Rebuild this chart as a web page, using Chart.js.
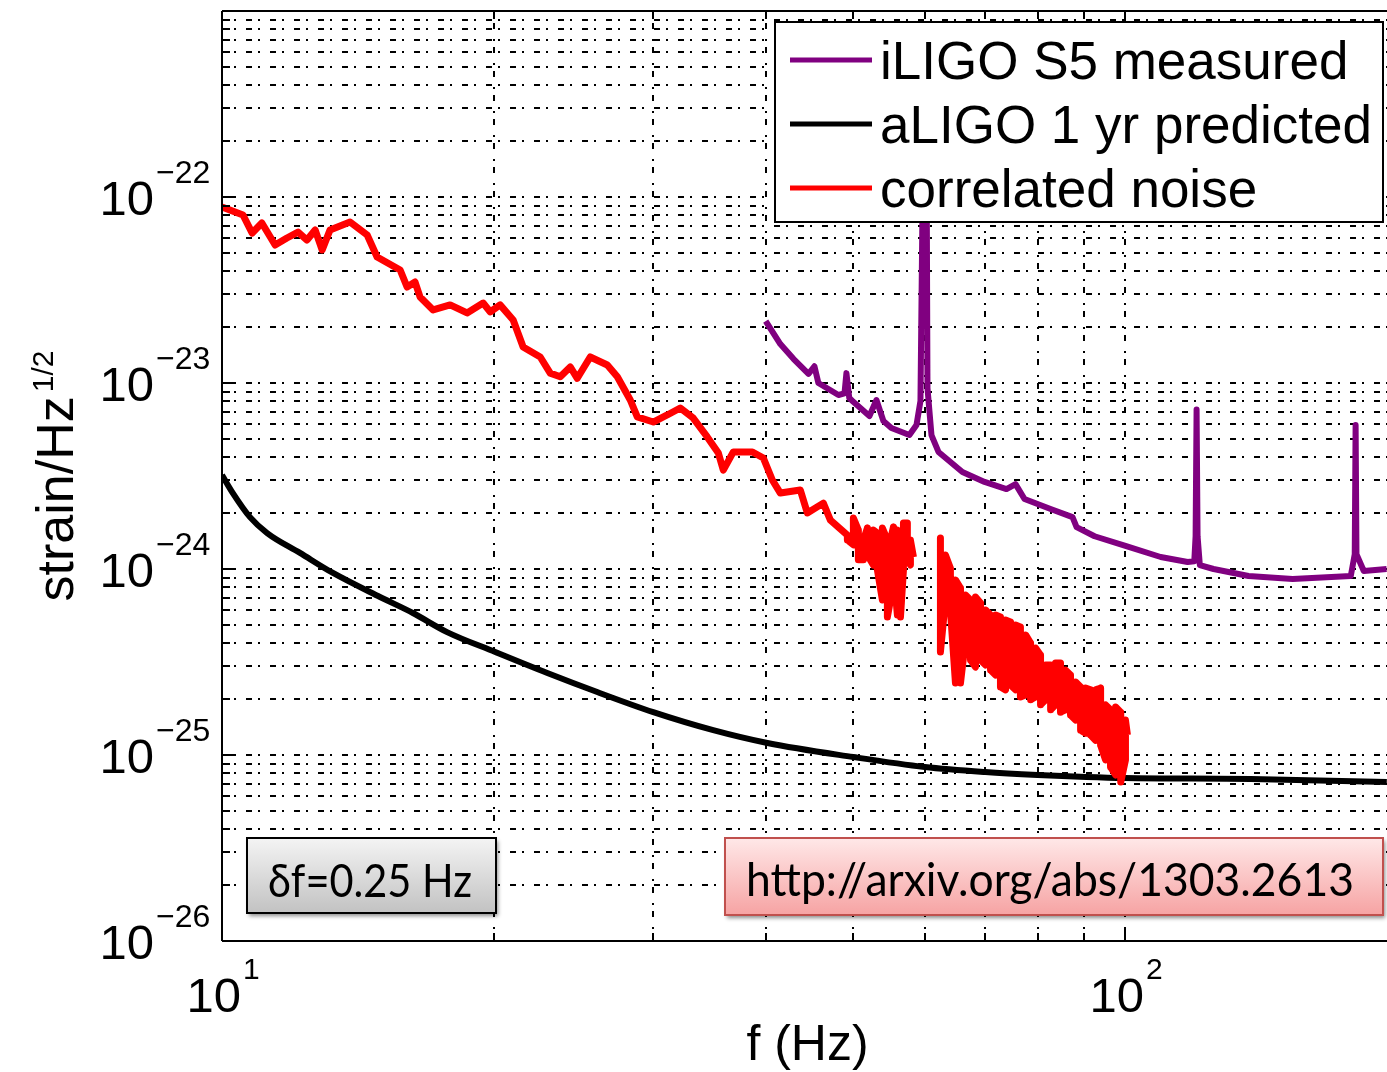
<!DOCTYPE html>
<html>
<head>
<meta charset="utf-8">
<script src="https://cdn.jsdelivr.net/npm/chart.js@4.4.1/dist/chart.umd.min.js"></script>
<style>
  html, body { margin: 0; padding: 0; background: #fff; }
  canvas { display: block; }
</style>
</head>
<body>
<canvas id="chart" width="1387" height="1072"></canvas>
<script>
// Strain noise spectra (Hz, strain/Hz^1/2)

// correlated noise (red); in the noisy stretches the upper and lower edge of the trace
// are both listed; null = gap around 60 Hz
const redFreq = [10.0, 10.55, 10.8, 11.07, 11.45, 11.8, 12.14, 12.42, 12.68, 12.91, 13.17, 13.86, 14.48, 14.85,
  15.75, 16.03, 16.36, 16.57, 17.13, 17.89, 18.68, 19.46, 19.82, 20.32, 21.01, 21.55, 22.51, 23.09, 23.69,
  24.3, 24.74, 25.57, 26.71, 27.4, 28.32, 28.83, 30.03, 31.12, 32.17, 33.25, 34.46, 35.45, 35.9, 36.83,
  38.67, 39.76, 40.68, 41.52, 43.69, 44.48, 46.33, 47.17,
  49.26, 49.26, 50.02, 50.02, 50.66, 50.66, 51.31, 51.31, 51.84, 51.84, 52.63, 52.63, 53.18, 53.18,
  53.86, 53.86, 54.55, 54.55, 54.98, 54.98, 55.4, 55.4, 55.96, 55.96, 56.4, 56.4, 56.83, 56.83,
  57.4, 57.4, 57.85, 57.85, 58.3,
  60.0,
  62.45, 62.45, 63.25, 63.25, 64.06, 64.06, 64.89, 64.89, 65.73, 65.73, 66.57, 66.57, 67.43, 67.43,
  68.29, 68.29, 69.18, 69.18, 70.07, 70.07, 70.96, 70.96, 71.88, 71.88, 72.78, 72.78, 73.73, 73.73,
  74.67, 74.67, 75.63, 75.63, 76.58, 76.58, 77.6, 77.6, 78.59, 78.59, 79.59, 79.59, 80.61, 80.61,
  81.65, 81.65, 82.71, 82.71, 83.75, 83.75, 84.82, 84.82, 85.92, 85.92, 87.01, 87.01, 88.15, 88.15,
  89.28, 89.28, 90.42, 90.42, 91.58, 91.58, 92.75, 92.75, 93.95, 93.95, 95.15, 95.15, 96.36, 96.36,
  97.61, 97.61, 98.9, 98.9, 100.1, 100.1, 100.6];
const redAsd = [8.84e-23, 8.0e-23, 6.4e-23, 7.25e-23, 5.52e-23, 6.02e-23, 6.48e-23, 5.87e-23, 6.65e-23, 5.19e-23,
  6.65e-23, 7.34e-23, 6.25e-23, 4.76e-23, 4.05e-23, 3.28e-23, 3.49e-23, 2.9e-23, 2.47e-23, 2.63e-23, 2.38e-23,
  2.69e-23, 2.41e-23, 2.63e-23, 2.18e-23, 1.56e-23, 1.38e-23, 1.13e-23, 1.08e-23, 1.22e-23, 1.06e-23, 1.38e-23,
  1.25e-23, 1.08e-23, 8.1e-24, 6.57e-24, 6.17e-24, 6.73e-24, 7.34e-24, 6.48e-24, 5.13e-24, 4.2e-24, 3.4e-24,
  4.26e-24, 4.26e-24, 3.95e-24, 3.01e-24, 2.56e-24, 2.66e-24, 2.0e-24, 2.26e-24, 1.83e-24,
  1.52e-24, 1.43e-24, 1.35e-24, 1.88e-24, 1.62e-24, 1.12e-24, 1.12e-24, 1.43e-24, 1.66e-24, 1.19e-24,
  1.05e-24, 1.62e-24, 1.56e-24, 9.88e-25, 6.81e-25, 1.66e-24, 1.43e-24, 5.52e-25, 6.81e-25, 1.43e-24,
  1.68e-24, 9.88e-25, 5.66e-25, 1.62e-24, 1.52e-24, 5.52e-25, 9.88e-25, 1.77e-24, 1.77e-24, 1.12e-24,
  1.05e-24, 1.43e-24, 1.16e-24,
  null,
  1.47e-24, 3.58e-25, 6.81e-25, 1.19e-24, 1.01e-24, 6.02e-25, 2.44e-25, 8.73e-25, 7.9e-25, 2.44e-25,
  4.15e-25, 7.25e-25, 6.81e-25, 3.24e-25, 2.97e-25, 7.07e-25, 6.57e-25, 3.24e-25, 3.05e-25, 6.02e-25,
  5.66e-25, 2.86e-25, 2.69e-25, 5.66e-25, 5.52e-25, 2.32e-25, 2.24e-25, 5.32e-25, 5.19e-25, 2.38e-25,
  2.24e-25, 5.0e-25, 4.88e-25, 2.05e-25, 2.1e-25, 4.42e-25, 4.0e-25, 1.98e-25, 2.05e-25, 3.76e-25,
  3.45e-25, 1.86e-25, 1.98e-25, 3.05e-25, 3.05e-25, 1.75e-25, 1.86e-25, 3.12e-25, 3.12e-25, 1.7e-25,
  1.75e-25, 2.86e-25, 2.69e-25, 1.64e-25, 1.54e-25, 2.47e-25, 2.32e-25, 1.36e-25, 1.31e-25, 2.29e-25,
  2.24e-25, 1.28e-25, 1.2e-25, 2.24e-25, 2.29e-25, 1.13e-25, 9.4e-26, 1.86e-25, 1.75e-25, 8.62e-26,
  7.81e-26, 1.81e-25, 1.7e-25, 7.16e-26, 9.4e-26, 1.54e-25, 1.28e-25];

// aLIGO 1 yr predicted (black)
const blackFreq = [10, 10.28, 10.74, 11.22, 12.2, 13.27, 14.96, 16.27, 17.75, 20.07, 22.92, 26.03, 30.03,
  34.99, 40.17, 50, 60, 70, 80, 90.6, 100, 137.8, 194.9];
const blackAsd = [3.2e-24, 2.56e-24, 1.9e-24, 1.56e-24, 1.22e-24, 9.52e-25, 7.07e-25, 5.8e-25, 4.58e-25,
  3.58e-25, 2.76e-25, 2.18e-25, 1.7e-25, 1.36e-25, 1.16e-25, 9.75e-26, 8.62e-26, 8.1e-26, 7.81e-26, 7.62e-26,
  7.52e-26, 7.43e-26, 7.16e-26];

// iLIGO S5 measured (purple), with the 60/120/180 Hz line spikes
const purpleFreq = [40, 41.52, 42.93, 44.61, 45.29, 45.75, 48.15, 48.9, 49.14, 49.5, 49.9, 52.11, 53.05, 54.0,
  55.11, 57.7, 58.75, 59.35, 59.7, 60.3, 60.42, 61.04, 62.14, 66.05, 69.89, 73.91, 75.63, 77.38, 82.71, 87.46,
  88.37, 92.52, 100.1, 109.5, 117.3, 119.3, 119.7, 120, 120.3, 121, 125.3, 137, 153.3, 177.8, 179.6, 180,
  180.4, 183.8, 194.8];
const purpleAsd = [2.15e-23, 1.62e-23, 1.35e-23, 1.12e-23, 1.23e-23, 1.0e-23, 8.62e-24, 8.8e-24, 1.13e-23, 8.3e-24,
  8.0e-24, 6.65e-24, 8.1e-24, 6.25e-24, 5.73e-24, 5.25e-24, 5.95e-24, 8.0e-24, 1.2e-22, 1.2e-22, 9.4e-24,
  5.25e-24, 4.26e-24, 3.32e-24, 2.94e-24, 2.69e-24, 2.86e-24, 2.38e-24, 2.1e-24, 1.9e-24, 1.68e-24, 1.5e-24,
  1.33e-24, 1.16e-24, 1.09e-24, 1.1e-24, 1.5e-24, 7.2e-24, 1.5e-24, 1.05e-24, 1.0e-24, 9.17e-25, 8.84e-25,
  9.17e-25, 1.2e-24, 5.95e-24, 1.2e-24, 9.75e-25, 1.0e-24];

// axes
const xMin = 10, xMax = 195;
const yMin = 1e-26, yMax = 1e-21;
const xGridTicks = [10, 20, 30, 40, 50, 60, 70, 80, 90, 100];
const xLabelExps = [1, 2];
const yDecadeExps = [-26, -25, -24, -23, -22];
const yLabelExps = [-26, -25, -24, -23, -22];
const yMantissas = [1, 2, 3, 4, 5, 6, 7, 8, 9];

const legendLabels = ['iLIGO S5 measured', 'aLIGO 1 yr predicted', 'correlated noise'];
const legendColors = ['#800080', '#000000', '#ff0000'];

const FONT = '"Liberation Sans", Arial, Helvetica, sans-serif';
const NOTE_FONT = 'Lato, "Open Sans", sans-serif';

function toPoints(xs, ys) {
  return xs.map((f, i) => ({ x: f, y: ys[i] }));
}

function yGridValues() {
  const vals = [];
  yDecadeExps.forEach(e => yMantissas.forEach(m => vals.push({ v: m * Math.pow(10, e), major: m === 1 })));
  vals.push({ v: yMax, major: true });
  return vals;
}

function seg(ctx, x1, y1, x2, y2) {
  ctx.beginPath();
  ctx.moveTo(x1, y1);
  ctx.lineTo(x2, y2);
  ctx.stroke();
}

// text squeezed/stretched to a target width (for the Calibri-like notes)
function fitText(ctx, text, x, baseline, width) {
  const w = ctx.measureText(text).width;
  ctx.save();
  ctx.translate(x, baseline);
  ctx.scale(width / w, 1);
  ctx.fillText(text, 0, 0);
  ctx.restore();
}

function noteBox(ctx, x, y, w, h, top, bottom, border) {
  ctx.save();
  const g = ctx.createLinearGradient(0, y, 0, y + h);
  g.addColorStop(0, top);
  g.addColorStop(1, bottom);
  ctx.shadowColor = 'rgba(0,0,0,0.45)';
  ctx.shadowBlur = 4;
  ctx.shadowOffsetX = 2;
  ctx.shadowOffsetY = 3;
  ctx.fillStyle = g;
  ctx.fillRect(x, y, w, h);
  ctx.shadowColor = 'transparent';
  ctx.strokeStyle = border;
  ctx.lineWidth = 2;
  ctx.strokeRect(x, y, w, h);
  ctx.restore();
}

const matlabFrame = {
  id: 'matlabFrame',
  beforeDatasetsDraw(chart) {
    const { ctx, chartArea: a, scales: { x, y } } = chart;
    ctx.save();
    ctx.fillStyle = '#fff';
    ctx.fillRect(0, 0, chart.width, chart.height);
    ctx.beginPath();
    ctx.rect(a.left, a.top, a.right - a.left, a.bottom - a.top);
    ctx.clip();
    ctx.strokeStyle = '#000';
    ctx.lineWidth = 2;
    ctx.setLineDash([6, 6, 2, 10]);
    yGridValues().forEach(g => {
      const py = Math.round(y.getPixelForValue(g.v));
      seg(ctx, a.left, py, a.right, py);
    });
    xGridTicks.forEach(v => {
      const px = Math.round(x.getPixelForValue(v));
      seg(ctx, px, a.bottom, px, a.top);
    });
    ctx.restore();
  },
  afterDatasetsDraw(chart) {
    const { ctx, chartArea: a, scales: { x, y } } = chart;
    ctx.save();

    // axes box and inward ticks
    ctx.strokeStyle = '#000';
    ctx.lineWidth = 2;
    seg(ctx, a.left, a.top, a.left, a.bottom);
    seg(ctx, a.left, a.top, a.right, a.top);
    seg(ctx, a.left, a.bottom, a.right, a.bottom);
    yGridValues().forEach(g => {
      const py = Math.round(y.getPixelForValue(g.v));
      seg(ctx, a.left, py, a.left + (g.major ? 14 : 8), py);
    });
    xGridTicks.forEach(v => {
      const px = Math.round(x.getPixelForValue(v));
      const len = (v === 10 || v === 100) ? 14 : 8;
      seg(ctx, px, a.bottom, px, a.bottom - len);
      seg(ctx, px, a.top, px, a.top + len);
    });

    // tick labels 10^n
    ctx.fillStyle = '#000';
    yLabelExps.forEach(e => {
      const py = y.getPixelForValue(Math.pow(10, e));
      ctx.font = '49px ' + FONT;
      ctx.textAlign = 'right';
      ctx.fillText('10', 154, py + 18);
      ctx.font = '32px ' + FONT;
      ctx.textAlign = 'left';
      ctx.fillText('\u2212' + Math.abs(e), 156, py - 14);
    });
    xLabelExps.forEach(e => {
      const px = x.getPixelForValue(Math.pow(10, e));
      ctx.font = '49px ' + FONT;
      ctx.textAlign = 'right';
      ctx.fillText('10', px + 19, 1012);
      ctx.font = '30px ' + FONT;
      ctx.textAlign = 'left';
      ctx.fillText(String(e), px + 21, 979);
    });

    // axis titles
    ctx.font = '50px ' + FONT;
    ctx.textAlign = 'center';
    ctx.fillText('f (Hz)', (a.left + a.right) / 2 + 3, 1060);

    ctx.save();
    ctx.translate(73, (a.top + a.bottom) / 2);
    ctx.rotate(-Math.PI / 2);
    ctx.font = '52px ' + FONT;
    const mainW = ctx.measureText('strain/Hz').width;
    ctx.font = '30px ' + FONT;
    const supW = ctx.measureText('1/2').width;
    const x0 = -(mainW + supW + 4) / 2;
    ctx.textAlign = 'left';
    ctx.font = '52px ' + FONT;
    ctx.fillText('strain/Hz', x0, 0);
    ctx.font = '30px ' + FONT;
    ctx.fillText('1/2', x0 + mainW + 4, -20);
    ctx.restore();

    // legend
    ctx.fillStyle = '#fff';
    ctx.fillRect(775, 22, 608, 200);
    ctx.strokeStyle = '#000';
    ctx.lineWidth = 2;
    ctx.strokeRect(775, 22, 608, 200);
    legendLabels.forEach((lab, i) => {
      const ry = 60 + i * 64;
      ctx.strokeStyle = legendColors[i];
      ctx.lineWidth = 5;
      seg(ctx, 790, ry, 872, ry);
      ctx.fillStyle = '#000';
      ctx.font = '53px ' + FONT;
      ctx.textAlign = 'left';
      ctx.fillText(lab, 880, ry + 19);
    });

    // note boxes
    noteBox(ctx, 247, 838, 249, 75, '#f4f4f4', '#c2c2c2', '#000');
    noteBox(ctx, 725, 838, 658, 77, '#ffe8e8', '#f6a3a3', '#c0504d');
    ctx.fillStyle = '#000';
    ctx.textAlign = 'left';
    ctx.font = '47px ' + NOTE_FONT;
    fitText(ctx, '\u03b4f=0.25 Hz', 268, 897, 204);
    fitText(ctx, 'http://arxiv.org/abs/1303.2613', 746, 896, 608);

    ctx.restore();
  }
};

const ctx = document.getElementById('chart').getContext('2d');
new Chart(ctx, {
  type: 'line',
  data: {
    datasets: [
      { label: legendLabels[2], data: toPoints(redFreq, redAsd), borderColor: '#ff0000', borderWidth: 7 },
      { label: legendLabels[1], data: toPoints(blackFreq, blackAsd), borderColor: '#000000', borderWidth: 6,
        cubicInterpolationMode: 'monotone' },
      { label: legendLabels[0], data: toPoints(purpleFreq, purpleAsd), borderColor: '#800080', borderWidth: 6 }
    ]
  },
  options: {
    responsive: false,
    animation: false,
    devicePixelRatio: 1,
    events: [],
    spanGaps: false,
    layout: { padding: { top: 11, right: 0, bottom: 0, left: 0 } },
    elements: {
      point: { radius: 0 },
      line: { tension: 0, borderJoinStyle: 'round', borderCapStyle: 'butt', fill: false }
    },
    scales: {
      x: {
        type: 'logarithmic', min: xMin, max: xMax,
        ticks: { display: false }, grid: { display: false }, border: { display: false },
        afterFit(s) { s.height = 131; }
      },
      y: {
        type: 'logarithmic', min: yMin, max: yMax,
        ticks: { display: false }, grid: { display: false }, border: { display: false },
        afterFit(s) { s.width = 222; }
      }
    },
    plugins: { legend: { display: false }, tooltip: { enabled: false } }
  },
  plugins: [matlabFrame]
});
</script>
</body>
</html>
